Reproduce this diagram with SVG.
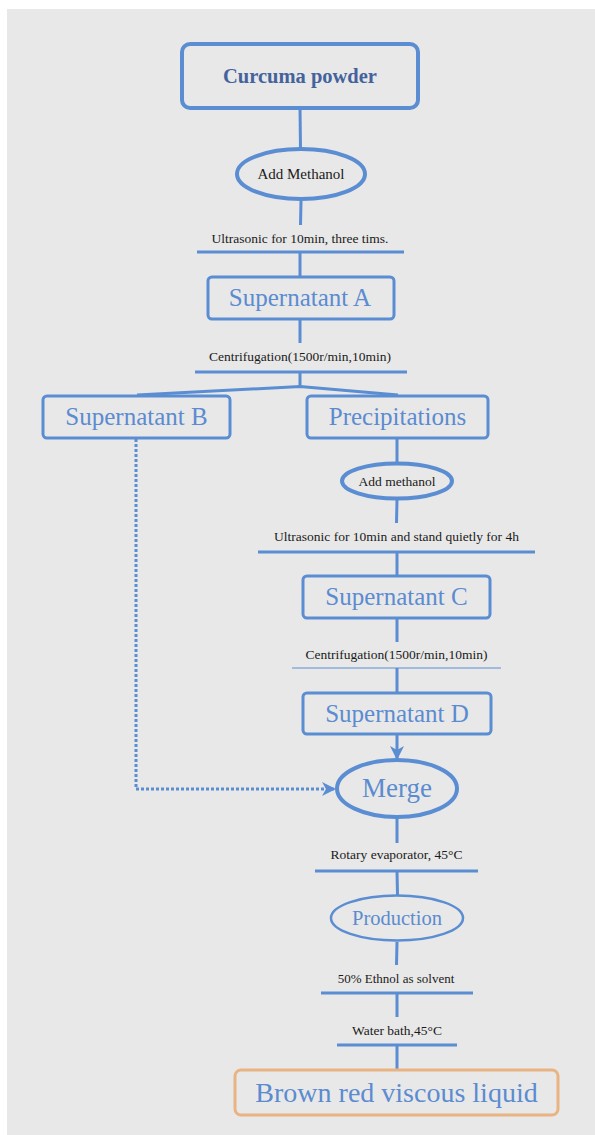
<svg xmlns="http://www.w3.org/2000/svg" width="595" height="1135" viewBox="0 0 595 1135">
<style>
.ln{stroke:#5b8dd3;stroke-width:3;fill:none;stroke-linecap:butt}
.bx{stroke:#5b8dd3;stroke-width:3;fill:none}
.el{stroke:#5b8dd3;stroke-width:4;fill:none}
text{font-family:'Liberation Serif','Times New Roman',Tinos,'DejaVu Serif',serif}
.lb{fill:#5b8bd0;text-anchor:middle}
.sm{fill:#1a1a1a;text-anchor:middle;font-size:13.5px}
</style>
<defs>
<marker id="ah" viewBox="0 0 14 14" refX="13" refY="7" markerWidth="14" markerHeight="14" markerUnits="userSpaceOnUse" orient="auto">
<path d="M0,0 L14,7 L0,14 L4,7 Z" fill="#5b8dd3"/>
</marker>
</defs>
<rect x="7" y="9" width="588" height="1126" fill="#e8e8e8"/>

<g id="connectors">
<line class="ln" x1="300" y1="108" x2="300.5" y2="149"/>
<line class="ln" x1="301" y1="201" x2="300.5" y2="225"/>
<line class="ln" x1="197" y1="252" x2="404" y2="252"/>
<line class="ln" x1="300" y1="252" x2="300" y2="277"/>
<line class="ln" x1="300" y1="319" x2="300" y2="343"/>
<line class="ln" x1="195" y1="372" x2="407" y2="372"/>
<line class="ln" x1="300" y1="372" x2="300" y2="387"/>
<polyline class="ln" points="137,395 300,386.5 398,395"/>
<line class="ln" x1="397" y1="438" x2="397" y2="464"/>
<line class="ln" x1="397" y1="500" x2="396.5" y2="523"/>
<line class="ln" x1="258" y1="552" x2="535" y2="552"/>
<line class="ln" x1="397" y1="552" x2="397" y2="576"/>
<line class="ln" x1="397" y1="618" x2="397" y2="642"/>
<line stroke="#5b8dd3" stroke-width="1.2" x1="292" y1="668" x2="501" y2="668"/>
<line class="ln" x1="397" y1="668" x2="397" y2="693"/>
<line class="ln" x1="397" y1="734" x2="397" y2="759" marker-end="url(#ah)"/>
<polyline class="ln" stroke-dasharray="3,2" points="136,439 136,789 335,789" marker-end="url(#ah)"/>
<line class="ln" x1="397" y1="818" x2="397" y2="843"/>
<line class="ln" x1="315" y1="871" x2="478" y2="871"/>
<line class="ln" x1="397" y1="871" x2="397.5" y2="895"/>
<line class="ln" x1="397" y1="942" x2="396.5" y2="965"/>
<line class="ln" x1="321" y1="993" x2="473" y2="993"/>
<line class="ln" x1="397" y1="993" x2="397" y2="1017"/>
<line class="ln" x1="337" y1="1045" x2="457" y2="1045"/>
<line class="ln" x1="397" y1="1045" x2="397" y2="1069"/>
</g>

<g id="curcuma">
<rect x="182" y="44" width="236" height="64" rx="8" fill="none" stroke="#5b8dd3" stroke-width="4"/>
<text x="300" y="83" class="lb" font-size="20.5" font-weight="bold" style="fill:#44639c">Curcuma powder</text>
</g>
<g id="add-methanol-1">
<ellipse cx="301" cy="174" rx="64" ry="25" class="el"/>
<text x="301" y="179" class="sm" style="font-size:15px">Add Methanol</text>
</g>
<text x="300" y="243" class="sm">Ultrasonic for 10min, three tims.</text>
<g id="supernatant-a">
<rect x="208" y="277" width="186" height="42" rx="4" class="bx"/>
<text x="300" y="306" class="lb" font-size="25">Supernatant A</text>
</g>
<text x="300" y="361" class="sm">Centrifugation(1500r/min,10min)</text>
<g id="supernatant-b">
<rect x="43" y="396" width="187" height="42" rx="4" class="bx"/>
<text x="136.5" y="425" class="lb" font-size="25">Supernatant B</text>
</g>
<g id="precipitations">
<rect x="307" y="396" width="181" height="42" rx="4" class="bx"/>
<text x="397.5" y="425" class="lb" font-size="25">Precipitations</text>
</g>
<g id="add-methanol-2">
<ellipse cx="397" cy="481" rx="55" ry="17.5" class="el"/>
<text x="397" y="486" class="sm">Add methanol</text>
</g>
<text x="396.5" y="541" class="sm">Ultrasonic for 10min and stand quietly for 4h</text>
<g id="supernatant-c">
<rect x="303" y="576" width="187" height="42" rx="4" class="bx"/>
<text x="396.5" y="605" class="lb" font-size="25">Supernatant C</text>
</g>
<text x="396.5" y="659" class="sm">Centrifugation(1500r/min,10min)</text>
<g id="supernatant-d">
<rect x="303" y="693" width="188" height="41" rx="4" class="bx"/>
<text x="397" y="722" class="lb" font-size="25">Supernatant D</text>
</g>
<g id="merge">
<ellipse cx="397" cy="788.5" rx="60" ry="28.5" class="el"/>
<text x="397" y="797" class="lb" font-size="27">Merge</text>
</g>
<text x="396.5" y="859" class="sm">Rotary evaporator, 45°C</text>
<g id="production">
<ellipse cx="397" cy="918" rx="66" ry="22.5" fill="none" stroke="#5b8dd3" stroke-width="2.5"/>
<text x="397" y="925" class="lb" font-size="20.5">Production</text>
</g>
<text x="396" y="983" class="sm" style="font-size:13px">50% Ethnol as solvent</text>
<text x="397" y="1035" class="sm">Water bath,45°C</text>
<g id="brown-liquid">
<rect x="235" y="1070" width="323" height="45" rx="6" fill="none" stroke="#e9b384" stroke-width="3"/>
<text x="396.5" y="1102" class="lb" font-size="28">Brown red viscous liquid</text>
</g>
</svg>
